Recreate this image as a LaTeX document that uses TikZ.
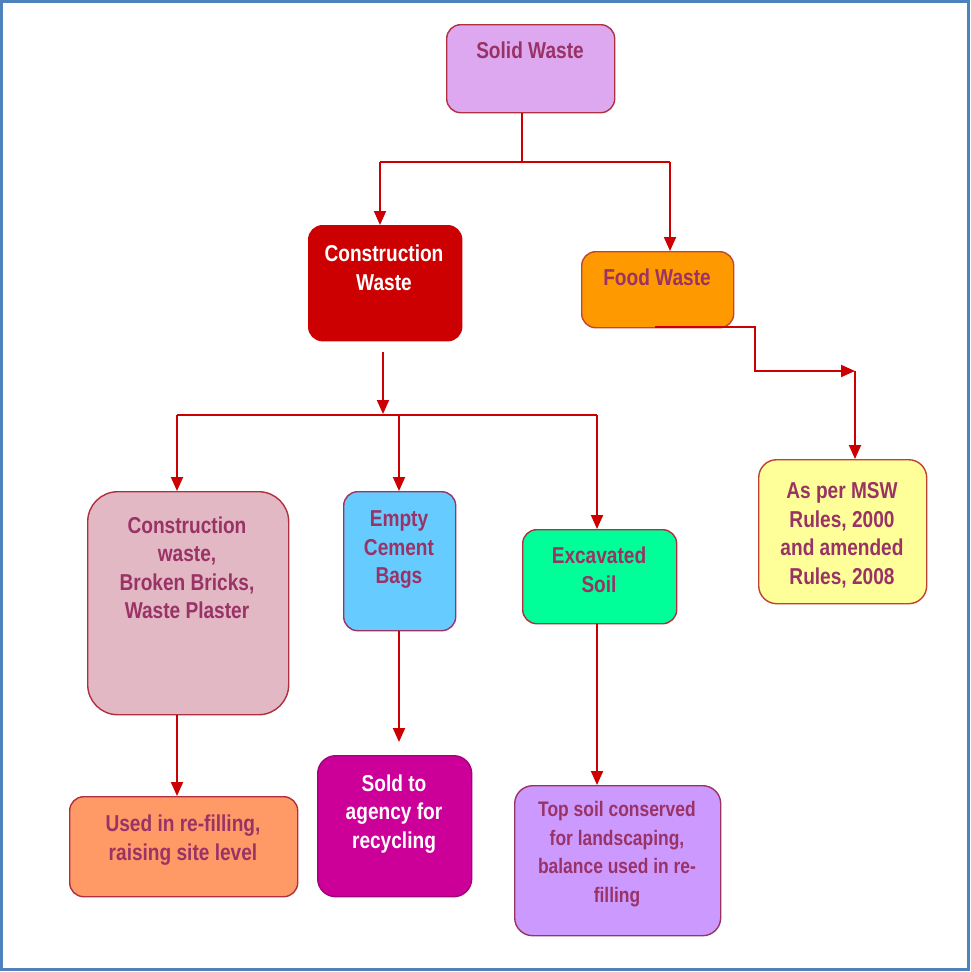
\documentclass[tikz,border=0pt]{standalone}
\usepackage{fontspec}
\newfontfamily\lab{Liberation Sans}[FakeStretch=0.83]
\usetikzlibrary{arrows.meta}
\definecolor{txtc}{HTML}{993366}
\definecolor{boxline}{HTML}{B03040}
\definecolor{arrowred}{HTML}{CC0000}
\definecolor{frameblue}{HTML}{4F81BD}
\definecolor{cSW}{HTML}{DDA8F0}
\definecolor{cCW}{HTML}{CC0000}
\definecolor{cFW}{HTML}{FF9900}
\definecolor{cCB}{HTML}{E2B8C4}
\definecolor{cEC}{HTML}{66CCFF}
\definecolor{cES}{HTML}{00FF99}
\definecolor{cMSW}{HTML}{FFFF99}
\definecolor{cUS}{HTML}{FF9966}
\definecolor{cSO}{HTML}{CC0099}
\definecolor{cTS}{HTML}{CC99FF}
\tikzset{
  box/.style={draw=boxline, line width=1.4pt, rounded corners=14pt, inner sep=0pt, anchor=north west},
  txt/.style={align=center, text=txtc, inner sep=0pt, font=\lab\bfseries\fontsize{23}{28.5}\selectfont},
  wtxt/.style={txt, text=white},
  ln/.style={draw=arrowred, line width=2pt},
  arr/.style={ln, -{Triangle[length=14pt,width=12pt]}},
}
\begin{document}
\begin{tikzpicture}[x=1pt,y=-1pt]
\useasboundingbox (0,0) rectangle (970,972);
\fill[white] (0,0) rectangle (970,972);
\draw[frameblue, line width=3pt] (1.5,1.5) rectangle (968.5,969.5);

% boxes
\node[box, fill=cSW, minimum width=168pt, minimum height=88pt] (sw) at (446,24) {};
\node[box, fill=cCW, draw=cCW, minimum width=153pt, minimum height=115pt] (cw) at (308,225) {};
\node[box, fill=cFW, draw=boxline!80!cFW, minimum width=152pt, minimum height=76pt] (fw) at (581,251) {};
\node[box, fill=cCB, rounded corners=30pt, minimum width=201pt, minimum height=223pt] (cb) at (87,491) {};
\node[box, fill=cEC, draw=txtc, minimum width=112pt, minimum height=139pt] (ec) at (343,491) {};
\node[box, fill=cES, minimum width=154pt, minimum height=94pt] (es) at (522,529) {};
\node[box, fill=cMSW, draw=boxline!80!orange, rounded corners=18pt, minimum width=168pt, minimum height=144pt] (msw) at (758,459) {};
\node[box, fill=cUS, minimum width=228pt, minimum height=100pt] (us) at (69,796) {};
\node[box, fill=cSO, draw=cSO!80!black, rounded corners=18pt, minimum width=154pt, minimum height=141pt] (so) at (317,755) {};
\node[box, fill=cTS, draw=txtc, rounded corners=18pt, minimum width=206pt, minimum height=150pt] (ts) at (514,785) {};

% texts
\node[txt] (swt) at (530,50) {Solid Waste};
\node[wtxt] (cwt) at (384,268) {Construction\\Waste};
\node[txt] (fwt) at (657,277) {Food Waste};
\node[txt] (cbt) at (187,568) {Construction\\waste,\\Broken Bricks,\\Waste Plaster};
\node[txt] (ect) at (399,550) {Empty\\Cement\\Bags};
\node[txt] (est) at (599,570) {Excavated\\Soil};
\node[txt] (mswt) at (842,535) {As per MSW\\Rules, 2000\\and amended\\Rules, 2008};
\node[txt] (ust) at (183,840) {Used in re-filling,\\raising site level};
\node[wtxt] (sot) at (394,814) {Sold to\\agency for\\recycling};
\node[txt, font=\lab\bfseries\fontsize{21}{28.5}\selectfont] (tst) at (617,854) {Top soil conserved\\for landscaping,\\balance used in re-\\filling};

% connectors
\coordinate (j1) at (522,162);
\coordinate (j0) at (380,162);
\coordinate (j2) at (670,162);
\draw[ln] (sw.south -| j1) -- (j1);
\draw[ln] (j0) -- (j2);
\draw[arr] (j0) -- (j0 |- cw.north);
\draw[arr] (j2) -- (j2 |- fw.north);

\coordinate (c1) at (383,352);
\coordinate (c2) at (383,414);
\draw[arr] (c1) -- (c2);
\coordinate (h1) at (177,415);
\coordinate (h2) at (399,415);
\coordinate (h3) at (597,415);
\draw[ln] (h1) -- (h3);
\draw[arr] (h1) -- (h1 |- cb.north);
\draw[arr] (h2) -- (h2 |- ec.north);
\draw[arr] (h3) -- (h3 |- es.north);

\draw[arr] (h1 |- cb.south) -- (h1 |- us.north);
\coordinate (e1) at (399,742);
\draw[arr] (h2 |- ec.south) -- (e1);
\draw[arr] (h3 |- es.south) -- (h3 |- ts.north);

\coordinate (f0) at (655,327);
\coordinate (f1) at (755,327);
\coordinate (f2) at (755,371);
\coordinate (f3) at (855,371);
\draw[arr] (f0) -- (f1) -- (f2) -- (f3);
\draw[arr] (f3) -- (f3 |- msw.north);
\end{tikzpicture}
\end{document}
